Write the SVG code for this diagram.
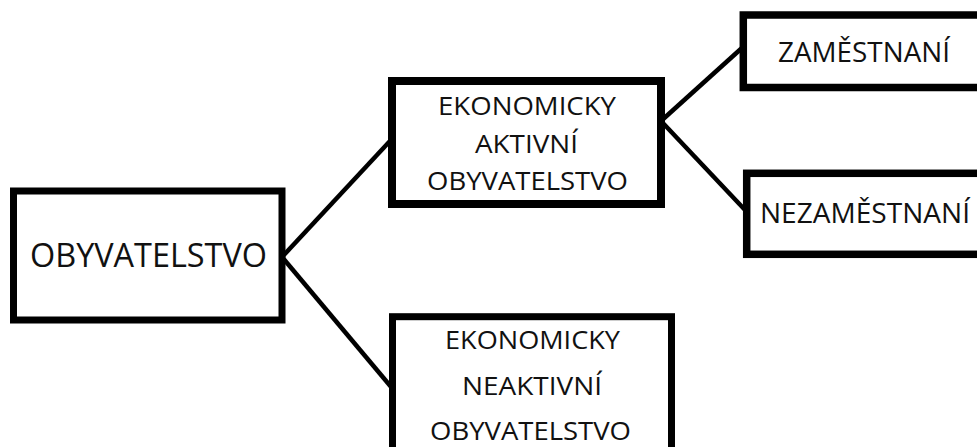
<svg xmlns="http://www.w3.org/2000/svg" width="977" height="447" viewBox="0 0 977 447">
<style>
.box{fill:#fff;stroke:#000;stroke-width:7}
.lbl{font-family:"Open Sans","Liberation Sans",sans-serif;fill:#111}
.conn{stroke:#000;stroke-width:4.5;fill:none;stroke-linecap:butt}
</style>
<rect width="977" height="447" fill="#fff"/>
<g id="connectors">
<line class="conn" x1="282" y1="257" x2="390" y2="141"/>
<line class="conn" x1="282" y1="257" x2="392" y2="388"/>
<line class="conn" x1="661" y1="121" x2="743" y2="47"/>
<line class="conn" x1="661" y1="121" x2="746" y2="211"/>
</g>
<g id="obyvatelstvo">
<rect class="box" x="13.5" y="191" width="268.5" height="129"/>
<text class="lbl" x="30" y="267" font-size="33" textLength="237" lengthAdjust="spacingAndGlyphs">OBYVATELSTVO</text>
</g>
<g id="aktivni">
<rect class="box" x="392" y="81" width="269" height="123" style="stroke-width:8"/>
<text class="lbl" x="438" y="115" font-size="25" textLength="178" lengthAdjust="spacingAndGlyphs">EKONOMICKY</text>
<text class="lbl" x="475" y="153" font-size="25" textLength="103" lengthAdjust="spacingAndGlyphs">AKTIVNÍ</text>
<text class="lbl" x="427" y="190" font-size="25" textLength="201" lengthAdjust="spacingAndGlyphs">OBYVATELSTVO</text>
</g>
<g id="neaktivni">
<rect class="box" x="392.5" y="316.7" width="279" height="150"/>
<text class="lbl" x="445" y="349" font-size="25" textLength="175" lengthAdjust="spacingAndGlyphs">EKONOMICKY</text>
<text class="lbl" x="462" y="395" font-size="25" textLength="140" lengthAdjust="spacingAndGlyphs">NEAKTIVNÍ</text>
<text class="lbl" x="430" y="440" font-size="25" textLength="201" lengthAdjust="spacingAndGlyphs">OBYVATELSTVO</text>
</g>
<g id="zamestnani">
<rect class="box" x="743.3" y="15" width="260" height="72.5" style="stroke-width:7.5"/>
<text class="lbl" x="778" y="62" font-size="27" textLength="172" lengthAdjust="spacingAndGlyphs">ZAMĚSTNANÍ</text>
</g>
<g id="nezamestnani">
<rect class="box" x="746.7" y="173.3" width="260" height="81" style="stroke-width:7.5"/>
<text class="lbl" x="760" y="223" font-size="27" textLength="210" lengthAdjust="spacingAndGlyphs">NEZAMĚSTNANÍ</text>
</g>
</svg>
